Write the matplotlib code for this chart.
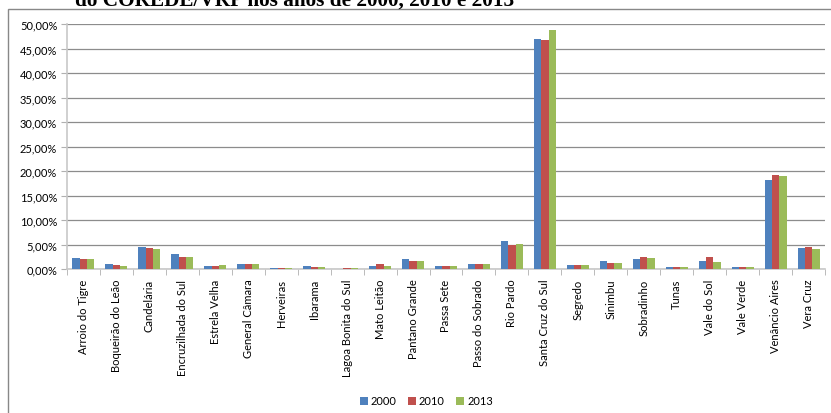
import matplotlib.pyplot as plt
import numpy as np
from matplotlib.patches import Rectangle
from matplotlib.ticker import FuncFormatter

municipios = ['Arroio do Tigre', 'Boqueirão do Leão', 'Candelária', 'Encruzilhada do Sul',
              'Estrela Velha', 'General Câmara', 'Herveiras', 'Ibarama', 'Lagoa Bonita do Sul',
              'Mato Leitão', 'Pantano Grande', 'Passa Sete', 'Passo do Sobrado', 'Rio Pardo',
              'Santa Cruz do Sul', 'Segredo', 'Sinimbu', 'Sobradinho', 'Tunas', 'Vale do Sol',
              'Vale Verde', 'Venâncio Aires', 'Vera Cruz']

v2000 = [2.2, 1.05, 4.4, 3.0, 0.7, 0.95, 0.3, 0.7, 0.0, 0.6, 1.95, 0.55, 0.95, 5.8,
         47.0, 0.8, 1.7, 2.1, 0.4, 1.55, 0.4, 18.2, 4.3]
v2010 = [2.05, 0.8, 4.3, 2.5, 0.7, 1.0, 0.3, 0.4, 0.3, 1.0, 1.7, 0.55, 0.95, 4.9,
         46.7, 0.8, 1.2, 2.45, 0.4, 2.4, 0.4, 19.3, 4.4]
v2013 = [2.05, 0.65, 4.1, 2.4, 0.8, 0.95, 0.3, 0.4, 0.3, 0.6, 1.7, 0.55, 1.0, 5.1,
         48.8, 0.8, 1.2, 2.25, 0.4, 1.45, 0.4, 18.9, 4.1]

anos = ['2000', '2010', '2013']
cores = ['#4F81BD', '#C0504D', '#9BBB59']

plt.rcParams['font.family'] = ['Lato', 'DejaVu Sans']

fig = plt.figure(figsize=(8.31, 4.14), dpi=100)
ax = fig.add_axes([0.0806, 0.3478, 0.9122, 0.5912])

x = np.arange(len(municipios))
w = 1 / 4.5
for i, (vals, ano) in enumerate(zip([v2000, v2010, v2013], anos)):
    ax.bar(x + (i - 1) * w, vals, width=w, color=cores[i], label=ano, zorder=3)

ax.set_xlim(-0.5, len(municipios) - 0.5)
ax.set_ylim(0, 50)
ax.set_yticks(np.arange(0, 50.1, 5))
ax.yaxis.set_major_formatter(FuncFormatter(lambda v, p: f'{v:.2f}%'.replace('.', ',')))
ax.grid(axis='y', color='#8c8c8c', linewidth=0.9, zorder=0)

ax.set_xticks(x)
ax.set_xticklabels(municipios, rotation=90, fontsize=8)
ax.set_xticks(np.arange(-0.5, len(municipios), 1), minor=True)
ax.tick_params(axis='x', which='major', length=0, pad=7)
ax.tick_params(axis='x', which='minor', length=4, color='#b0b0b0')
ax.tick_params(axis='y', labelsize=8, length=4, color='#b0b0b0', pad=3)

for s in ['top', 'right']:
    ax.spines[s].set_visible(False)
for s in ['left', 'bottom']:
    ax.spines[s].set_color('#c8c8c8')
    ax.spines[s].set_linewidth(1.2)

ax.legend(loc='center', bbox_to_anchor=(0.513, 1 - 402 / 414), bbox_transform=fig.transFigure,
          ncol=3, frameon=False, fontsize=8, handlelength=0.7, handleheight=0.7,
          handletextpad=0.3, columnspacing=1.0)

fig.patches.append(Rectangle((8 / 831, -0.05), 1.0, 1 - 10 / 414 + 0.05, transform=fig.transFigure,
                             fill=False, edgecolor='#888888', linewidth=1.0))

fig.text(75 / 831, 1 - 6 / 414, 'do COREDE/VRP nos anos de 2000, 2010 e 2013',
         fontsize=15.3, fontweight='bold', family='Liberation Serif', ha='left', va='baseline')

fig.savefig('out.png', dpi=100)
